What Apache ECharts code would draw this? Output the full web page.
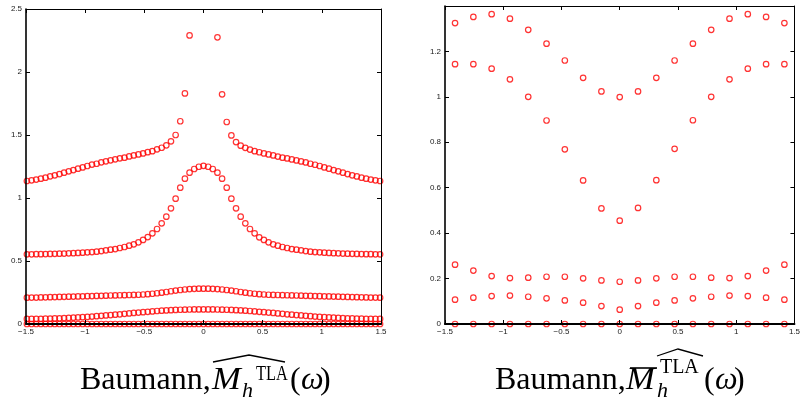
<!DOCTYPE html>
<html><head><meta charset="utf-8">
<script src="https://cdn.jsdelivr.net/npm/echarts@6/dist/echarts.min.js"></script>
<style>html,body{margin:0;padding:0;background:#fff}#c{width:803px;height:410px}</style>
</head><body><div id="c"></div>
<script>
// ---------- Left panel: omega grid (77 points) ----------
const xFine = [-1.4923,-1.4530,-1.4137,-1.3744,-1.3352,-1.2959,-1.2566,-1.2174,-1.1781,-1.1388,
-1.0996,-1.0603,-1.0210,-0.9817,-0.9425,-0.9032,-0.8639,-0.8247,-0.7854,-0.7461,
-0.7069,-0.6676,-0.6283,-0.5890,-0.5498,-0.5105,-0.4712,-0.4320,-0.3927,-0.3534,
-0.3142,-0.2749,-0.2356,-0.1963,-0.1571,-0.1178,-0.0785,-0.0393,0,
0.0393,0.0785,0.1178,0.1571,0.1963,0.2356,0.2749,0.3142,0.3534,0.3927,
0.4320,0.4712,0.5105,0.5498,0.5890,0.6283,0.6676,0.7069,0.7461,0.7854,
0.8247,0.8639,0.9032,0.9425,0.9817,1.0210,1.0603,1.0996,1.1388,1.1781,
1.2174,1.2566,1.2959,1.3352,1.3744,1.4137,1.4530,1.4923];

const leftS1 = [1.135,1.140,1.146,1.153,1.161,1.172,1.180,1.190,1.201,1.212,
1.222,1.233,1.243,1.254,1.265,1.272,1.283,1.291,1.299,1.307,
1.315,1.320,1.330,1.338,1.346,1.354,1.364,1.372,1.386,1.399,
1.418,1.450,1.500,1.609,1.830,2.290,null,null,null,
null,null,2.275,1.823,1.603,1.497,1.444,1.415,1.398,1.384,
1.372,1.363,1.354,1.346,1.338,1.329,1.320,1.314,1.306,1.298,
1.290,1.282,1.272,1.264,1.254,1.243,1.233,1.222,1.212,1.201,
1.190,1.180,1.171,1.161,1.153,1.146,1.140,1.135];

const leftS2 = [0.553,0.553,0.554,0.554,0.555,0.556,0.557,0.558,0.559,0.561,
0.562,0.564,0.566,0.569,0.571,0.574,0.579,0.585,0.590,0.595,
0.603,0.611,0.622,0.632,0.648,0.667,0.690,0.720,0.754,0.799,
0.852,0.918,0.995,1.082,1.153,1.201,1.230,1.248,1.255,
1.248,1.230,1.201,1.153,1.082,0.995,0.918,0.852,0.799,0.754,
0.720,0.688,0.667,0.648,0.632,0.622,0.611,0.603,0.595,0.590,
0.585,0.579,0.574,0.571,0.569,0.566,0.564,0.562,0.561,0.559,
0.558,0.557,0.556,0.555,0.554,0.554,0.553,0.553];

const leftS3 = [0.209,0.210,0.210,0.211,0.212,0.213,0.214,0.215,0.216,0.217,
0.218,0.219,0.220,0.221,0.222,0.223,0.224,0.225,0.226,0.227,
0.228,0.229,0.230,0.231,0.232,0.234,0.237,0.240,0.244,0.249,
0.254,0.260,0.265,0.270,0.274,0.277,0.279,0.280,0.280,
0.280,0.279,0.277,0.274,0.270,0.265,0.260,0.254,0.249,0.244,
0.240,0.237,0.234,0.232,0.231,0.230,0.229,0.228,0.227,0.226,
0.225,0.224,0.223,0.222,0.221,0.220,0.219,0.218,0.217,0.216,
0.215,0.214,0.213,0.212,0.211,0.210,0.210,0.209];

const leftS4 = [0.040,0.040,0.041,0.041,0.042,0.043,0.044,0.045,0.047,0.048,
0.050,0.052,0.054,0.056,0.059,0.062,0.065,0.068,0.071,0.074,
0.077,0.081,0.084,0.088,0.091,0.094,0.097,0.100,0.103,0.106,
0.108,0.110,0.112,0.113,0.114,0.115,0.116,0.116,0.116,
0.116,0.116,0.115,0.114,0.113,0.112,0.110,0.108,0.106,0.103,
0.100,0.097,0.094,0.091,0.088,0.084,0.081,0.077,0.074,0.071,
0.068,0.065,0.062,0.059,0.056,0.054,0.052,0.050,0.048,0.047,
0.045,0.044,0.043,0.042,0.041,0.041,0.040,0.040];

const leftS5 = [0,0,0,0,0,0,0,0,0,0, 0,0,0,0,0,0,0,0,0,0,
0,0,0,0,0,0,0,0,0,0, 0,0,0,0,0,0,0,0,0,
0,0,0,0,0,0,0,0,0,0, 0,0,0,0,0,0,0,0,0,0,
0,0,0,0,0,0,0,0,0,0, 0,0,0,0,0,0,0,0];

// ---------- Right panel: omega grid (19 points) ----------
const xCoarse = [-1.4137,-1.2566,-1.0996,-0.9425,-0.7854,-0.6283,-0.4712,-0.3142,-0.1571,0,
0.1571,0.3142,0.4712,0.6283,0.7854,0.9425,1.0996,1.2566,1.4137];
const rightS1 = [1.325,1.352,1.364,1.344,1.295,1.234,1.160,1.084,1.024,0.999,1.024,1.084,1.160,1.234,1.295,1.344,1.364,1.352,1.325];
const rightS2 = [1.144,1.144,1.124,1.077,1.000,0.896,0.769,0.632,0.509,0.455,0.511,0.633,0.771,0.897,1.000,1.077,1.124,1.144,1.144];
const rightS3 = [0.261,0.235,0.211,0.202,0.204,0.208,0.208,0.201,0.192,0.186,0.192,0.201,0.208,0.208,0.204,0.202,0.211,0.235,0.261];
const rightS4 = [0.107,0.116,0.123,0.125,0.120,0.113,0.104,0.094,0.079,0.063,0.079,0.094,0.104,0.113,0.120,0.125,0.123,0.116,0.107];
const rightS5 = [0,0,0,0,0,0,0,0,0,0,0,0,0,0,0,0,0,0,0];

// tick values
const leftXTicks = {min:-1.5, max:1.5, interval:0.5};
const leftYTicks = {min:0, max:2.5, interval:0.5};
const rightXTicks = {min:-1.5, max:1.5, interval:0.5};
const rightYTicks = {min:0, max:1.4, interval:0.2};

function pairs(xs, ys){ const out=[]; for(let i=0;i<xs.length;i++){ if(ys[i]!=null) out.push([xs[i], ys[i]]); } return out; }
const fmt = v => { const s = String(Math.round(v*10)/10); return s.replace('-', '\u2212'); };

const chart = echarts.init(document.getElementById('c'), null, {renderer:'canvas'});
const lblStyle = {fontSize:8, color:'#1a1a1a', fontFamily:'Liberation Sans, Arial, sans-serif'};
function xAx(grid, pos, t, labels){
  return {type:'value', gridIndex:grid, position:pos, min:t.min, max:t.max, interval:t.interval, z:5,
    axisLine:{show:true, onZero:false, lineStyle:{color:'#000', width: pos==='bottom'?2:1}},
    axisTick:{show:true, inside:true, length:4, lineStyle:{color:'#000', width:1}},
    axisLabel:Object.assign({show:labels, margin:4, formatter:fmt}, lblStyle),
    splitLine:{show:false}};
}
function yAx(grid, pos, t, labels, hideTop){
  return {type:'value', gridIndex:grid, position:pos, min:t.min, max:t.max, interval:t.interval, z:5,
    axisLine:{show:true, onZero:false, lineStyle:{color:'#000', width: pos==='left'?1.6:1}},
    axisTick:{show:true, inside:true, length:4, lineStyle:{color:'#000', width:1}},
    axisLabel:Object.assign({show:labels, margin:4, formatter: v => (hideTop && Math.abs(v-t.max)<1e-9) ? '' : fmt(v)}, lblStyle),
    splitLine:{show:false}};
}
function sc(data, xi, yi){
  return {type:'scatter', xAxisIndex:xi, yAxisIndex:yi, data:data, symbol:'circle', symbolSize:5.5, clip:false, silent:true,
    itemStyle:{color:'rgba(0,0,0,0)', borderColor:'#ff0000', borderWidth:1.2}};
}
const serif = '"Liberation Serif", "Times New Roman", serif';
function T(text, x, y, size, italic, sx){
  return {type:'text', silent:true, x:x, y:y, scaleX:(sx||1), originX:0, originY:0,
    style:{text:text, x:0, y:0, fill:'#000',
    font:(italic?'italic ':'')+size+'px '+serif, textAlign:'left', textVerticalAlign:'middle', align:'left', verticalAlign:'middle'}};
}
function P(points, w){
  return {type:'polyline', silent:true, shape:{points:points}, style:{stroke:'#000', lineWidth:w, fill:null}};
}

chart.setOption({
  animation:false,
  backgroundColor:'#fff',
  grid:[{left:26, top:9, width:355, height:315}, {left:445, top:6, width:356, height:318}],
  xAxis:[xAx(0,'bottom',leftXTicks,true), xAx(0,'top',leftXTicks,false), xAx(1,'bottom',rightXTicks,true), xAx(1,'top',rightXTicks,false)],
  yAxis:[yAx(0,'left',leftYTicks,true,false), yAx(0,'right',leftYTicks,false,false), yAx(1,'left',rightYTicks,true,true), yAx(1,'right',rightYTicks,false,true)],
  series:[
    sc(pairs(xFine,leftS1),0,0), sc(pairs(xFine,leftS2),0,0), sc(pairs(xFine,leftS3),0,0), sc(pairs(xFine,leftS4),0,0), sc(pairs(xFine,leftS5),0,0),
    sc(pairs(xCoarse,rightS1),2,2), sc(pairs(xCoarse,rightS2),2,2), sc(pairs(xCoarse,rightS3),2,2), sc(pairs(xCoarse,rightS4),2,2), sc(pairs(xCoarse,rightS5),2,2)
  ],
  graphic:[
    T('Baumann,', 80, 381, 32, false),
    T('M', 212, 381, 32, true, 1.08),
    T('h', 242, 391, 22, true),
    T('TLA', 256, 374, 21, false, 0.78),
    T('(', 290, 381, 32, false), T('\u03c9', 301, 381, 32, true), T(')', 320, 381, 32, false),
    P([[213,362],[249,355],[285,362]], 1.3),

    T('Baumann,', 495, 381, 32, false),
    T('M', 626, 381, 32, true, 1.08),
    P([[630,368],[657,368]], 1.6),
    T('h', 657, 391, 22, true),
    T('TLA', 660, 367, 21, false, 0.95),
    P([[657,356],[678,349],[703,356]], 1.3),
    T('(', 704, 381, 32, false), T('\u03c9', 715, 381, 32, true), T(')', 734, 381, 32, false)
  ]
});
</script></body></html>
